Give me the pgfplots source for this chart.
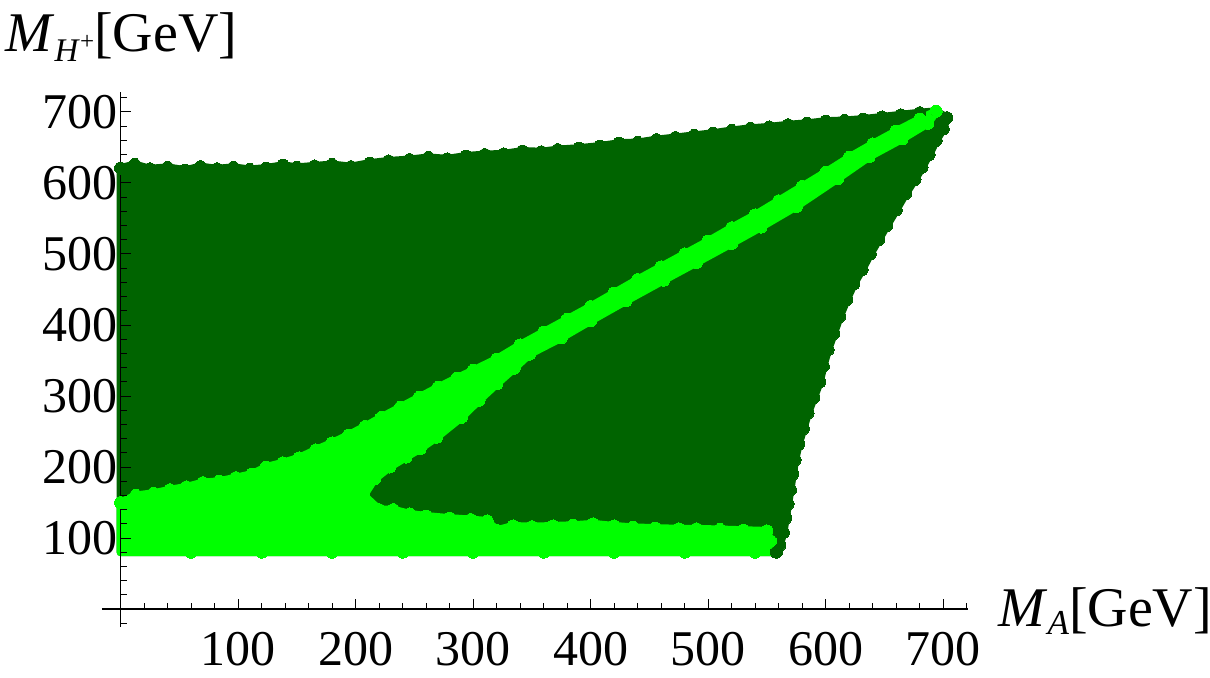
\documentclass[border=0pt]{standalone}
\usepackage{fontspec}
\setmainfont{Liberation Serif}
\newfontfamily\tickfont{Liberation Serif}
\usepackage{pgfplots}
\pgfplotsset{compat=1.18}
\definecolor{dg}{RGB}{0,100,0}
\definecolor{lg}{RGB}{0,255,0}
\begin{document}
\begin{tikzpicture}
\begin{axis}[
 scale only axis, width=432.98pt, height=267.3pt,
 xmin=-16, xmax=721, ymin=-25, ymax=728,
 axis lines=middle,
 axis line style={-, line width=0.6pt, black},
 every inner x axis line/.append style={-},
 every inner y axis line/.append style={-},
 axis on top, clip=false,
 xtick={100,200,...,700}, ytick={100,200,...,700},
 xticklabels={100,200,300,400,500,600,700},
 yticklabels={100,200,300,400,500,600,700},
 minor xtick={0,20,...,720}, minor ytick={-20,0,20,...,720},
 tick align=inside, major tick length=5pt, minor tick length=3pt,
 tick style={line width=0.5pt, black},
 ticklabel style={font=\tickfont\fontsize{25}{29}\selectfont},
 xticklabel style={anchor=north, yshift=-8pt},
 yticklabel style={anchor=east, xshift=2pt},
 every axis x label/.style={at={(axis description cs:1.0346,0)}, anchor=base west, inner sep=0pt, font=\rmfamily\fontsize{28}{33}\selectfont},
 every axis y label/.style={at={(axis description cs:-0.1116,1.0756)}, anchor=base west, inner sep=0pt, font=\rmfamily\fontsize{28}{33}\selectfont},
 xlabel={\textit{M}\raisebox{-4pt}{\fontsize{17.5}{18}\selectfont\textit{A}}[GeV]},
 ylabel={\textit{M}\raisebox{-5pt}{\fontsize{16.5}{17}\selectfont\textit{H}\raisebox{6pt}{\fontsize{12.5}{13}\selectfont +}}[GeV]},
]
% dark green region (allowed points)
\addplot[fill=dg, draw=dg, line width=4pt, line join=round] coordinates {
(0,80) (0,621) (12,626) (25,620) (40,622) (55,618) (68,623) (82,620) (96,622) (110,619) (124,621) (138,625) (150,622) (165,624) (180,626) (196,623) (212,628) (228,631) (246,633) (262,636) (278,634) (294,638) (310,640) (326,641) (342,645) (358,644) (372,647) (390,649) (408,652) (424,656) (440,657) (456,661) (472,664) (488,667) (504,670) (520,674) (536,677) (552,679) (568,682) (584,684) (600,687) (616,688) (632,690) (648,693) (664,696) (680,699) (694,701) (703,692)
(700,676) (694,660) (688,640) (682,622) (676,605) (668,585) (660,562) (652,540) (645,520) (638,500) (631,478) (624,458) (618,436) (612,412) (607,388) (602,365) (598,342) (595,320) (590,298) (585,276) (581,254) (577,232) (574,210) (572,190) (570,168) (568,148) (566,128) (564,108) (561,90) (558,80)
} -- cycle;
\addplot[only marks, mark=*, mark size=3pt, mark options={draw=dg, fill=dg, line width=0pt}] coordinates {
(0,621) (12,626) (25,620) (40,622) (55,618) (68,623) (82,620) (96,622) (110,619) (124,621) (138,625) (150,622) (165,624) (180,626) (196,623) (212,628) (228,631) (246,633) (262,636) (278,634) (294,638) (310,640) (326,641) (342,645) (358,644) (372,647) (390,649) (408,652) (424,656) (440,657) (456,661) (472,664) (488,667) (504,670) (520,674) (536,677) (552,679) (568,682) (584,684) (600,687) (616,688) (632,690) (648,693) (664,696) (680,699) (694,701) (703,692)
(700,676) (694,660) (688,640) (682,622) (676,605) (668,585) (660,562) (652,540) (645,520) (638,500) (631,478) (624,458) (618,436) (612,412) (607,388) (602,365) (598,342) (595,320) (590,298) (585,276) (581,254) (577,232) (574,210) (572,190) (570,168) (568,148) (566,128) (564,108) (561,90) (558,80)
};
% light green region
\addplot[fill=lg, draw=lg, line width=4pt, line join=round] coordinates {
(0,80) (0,150) (13,160) (28,163) (42,168) (56,172) (70,178) (84,180) (98,185) (112,190) (124,200) (138,206) (152,213) (166,224) (180,234) (194,245) (208,257) (222,270) (238,284) (254,298) (270,312) (286,325) (300,336) (320,352) (340,372) (360,390) (380,408) (400,426) (420,445) (440,464) (460,482) (480,500) (500,518) (520,537) (540,555) (560,575) (580,595) (600,615) (620,636) (640,655) (660,673) (680,690) (694,701)
(687,684) (665,662) (637,637) (610,606) (575,567) (545,538) (520,515) (490,488) (462,463) (430,434) (400,406) (375,382) (348,359) (335,339) (320,317) (305,294) (290,270) (269,242) (255,226) (243,214) (229,200) (216,183) (207,160)
(220,140) (232,140) (246,134) (260,131) (280,128) (298,126) (312,124) (320,111) (334,117) (350,116) (368,117) (385,118) (402,120) (420,117) (436,115) (455,114) (475,113) (490,113) (510,112) (530,111) (550,110) (553,96) (553,80)
} -- cycle;
\addplot[only marks, mark=*, mark size=3pt, mark options={draw=lg, fill=lg, line width=0pt}] coordinates {
(0,150) (13,160) (28,163) (42,168) (56,172) (70,178) (84,180) (98,185) (112,190) (124,200) (138,206) (152,213) (166,224) (180,234) (194,245) (208,257) (222,270) (238,284) (254,298) (270,312) (286,325) (300,336) (320,352) (340,372) (360,390) (380,408) (400,426) (420,445) (440,464) (460,482) (480,500) (500,518) (520,537) (540,555) (560,575) (580,595) (600,615) (620,636) (640,655) (660,673) (680,690) (694,701)
(687,684) (665,662) (637,637) (610,606) (575,567) (545,538) (520,515) (490,488) (462,463) (430,434) (400,406) (375,382) (348,359) (335,339) (320,317) (305,294) (290,270) (269,242) (255,226) (243,214) (229,200) (216,183) (207,160)
(220,140) (232,140) (246,134) (260,131) (280,128) (298,126) (312,124) (320,111) (334,117) (350,116) (368,117) (385,118) (402,120) (420,117) (436,115) (455,114) (475,113) (490,113) (510,112) (530,111) (550,110) (553,96)
(60,80) (120,80) (180,80) (240,80) (300,80) (360,80) (420,80) (480,80) (540,80)
};
\coordinate (bbl) at (axis cs:-102.6,-95.8);
\coordinate (btr) at (axis cs:927,857.7);
\end{axis}
\pgfresetboundingbox
\path[use as bounding box] (bbl) rectangle (btr);
\end{tikzpicture}
\end{document}
